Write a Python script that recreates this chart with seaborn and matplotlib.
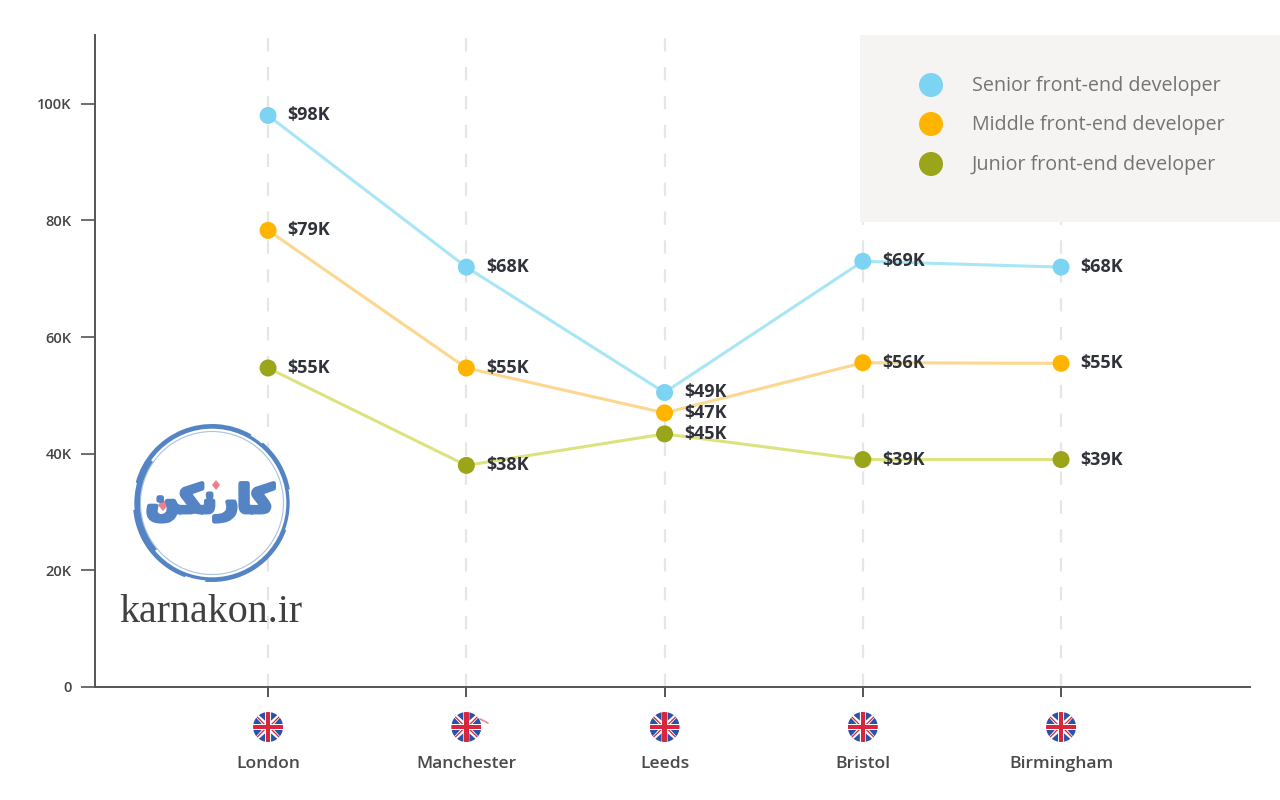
"""Front-end developer salaries by UK city"""

import pandas as pd
import matplotlib.pyplot as plt
import matplotlib.patheffects as pe
from matplotlib.patches import Circle, Rectangle, Wedge, Polygon
import seaborn as sns

cities = ['London', 'Manchester', 'Leeds', 'Bristol', 'Birmingham']
levels = ['Senior front-end developer', 'Middle front-end developer', 'Junior front-end developer']

senior = [98, 72, 50.5, 73, 72]
middle = [78.3, 54.7, 47, 55.6, 55.5]
junior = [54.7, 38, 43.4, 39, 39]

senior_labels = ['$98K', '$68K', '$49K', '$69K', '$68K']
middle_labels = ['$79K', '$55K', '$47K', '$56K', '$55K']
junior_labels = ['$55K', '$38K', '$45K', '$39K', '$39K']

y_ticks = [0, 20, 40, 60, 80, 100]
y_tick_labels = ['0', '20K', '40K', '60K', '80K', '100K']

dot_colors = ['#7dd3f2', '#ffb400', '#9ba51a']
line_colors = ['#a8e6f5', '#fbd78f', '#dde27f']

W, H = 1280, 800
sns.set_theme(style='white')
plt.rcParams['font.family'] = ['Open Sans', 'DejaVu Sans']

df = pd.DataFrame({
    'city': cities * 3,
    'pos': list(range(5)) * 3,
    'level': [lv for lv in levels for _ in cities],
    'salary': senior + middle + junior,
})

fig = plt.figure(figsize=(W / 100, H / 100), dpi=100)
ax = fig.add_axes([95 / W, (H - 687) / H, (1250 - 95) / W, (687 - 35) / H])

# Overlay in pixel coordinates for legend panel, logo and flags
ov = fig.add_axes([0, 0, 1, 1], zorder=5)
ov.set_xlim(0, W)
ov.set_ylim(H, 0)
ov.axis('off')
ov.patch.set_alpha(0)

ax.set_xlim(-0.873, 4.953)
ax.set_ylim(0, 111.8)

for i in range(5):
    ax.axvline(i, color='#e6e6e6', lw=1.6, ls=(0, (6, 7)), zorder=1)

sns.lineplot(data=df, x='pos', y='salary', hue='level', hue_order=levels,
             palette=line_colors, lw=2.2, legend=False, ax=ax, zorder=2)
sns.scatterplot(data=df, x='pos', y='salary', hue='level', hue_order=levels,
                palette=dot_colors, s=150, edgecolor='none', legend=False,
                ax=ax, zorder=3)

# Value labels
for values, labels in zip([senior, middle, junior],
                          [senior_labels, middle_labels, junior_labels]):
    for i, (v, lab) in enumerate(zip(values, labels)):
        ax.annotate(lab.replace('$', r'\$'), (i, v), xytext=(14, 0),
                    textcoords='offset points', va='center', ha='left',
                    fontsize=13, fontweight='bold', color='#30323a', zorder=4)

ax.set_xlabel('')
ax.set_ylabel('')
ax.set_xticks(range(5))
ax.set_xticklabels([])
ax.set_yticks(y_ticks)
ax.set_yticklabels(y_tick_labels, fontsize=10.5, fontweight='semibold', color='#444444')
ax.tick_params(axis='y', length=10, width=1.2, color='#555555', left=True, pad=7)
ax.tick_params(axis='x', length=15, width=1.4, color='#555555', bottom=True,
               direction='inout')
ax.patch.set_alpha(0)
sns.despine(ax=ax)
for side in ['left', 'bottom']:
    ax.spines[side].set_color('#555555')
    ax.spines[side].set_linewidth(1.4)

# Legend panel
ov.add_patch(Rectangle((860, 35), 420, 187, color='#f5f4f2', lw=0))
for py, color, label in zip([85, 124, 164], dot_colors, levels):
    ov.add_patch(Circle((931, py), 12, color=color, lw=0))
    ov.text(972, py + 1, label, fontsize=14.2, color='#747474', va='center', ha='left')


def draw_flag(cx, cy, r=15):
    """Small round Union Jack"""
    clip = Circle((cx, cy), r, transform=ov.transData, color='#ffffff', lw=0)
    ov.add_patch(clip)
    items = []
    for sx in (-1, 1):
        for sy in (-1, 1):
            items.append(Polygon([(cx + sx * r * 0.2, cy + sy * r),
                                  (cx + sx * r * 0.85, cy + sy * r),
                                  (cx + sx * r * 0.2, cy + sy * r * 0.42)],
                                 color='#2a52a8', lw=0))
            items.append(Polygon([(cx + sx * r, cy + sy * r * 0.2),
                                  (cx + sx * r, cy + sy * r * 0.85),
                                  (cx + sx * r * 0.42, cy + sy * r * 0.2)],
                                 color='#2a52a8', lw=0))
            items.append(Polygon([(cx + sx * r * 0.2, cy + sy * r * 0.2),
                                  (cx + sx * r * 0.32, cy + sy * r * 0.2),
                                  (cx + sx * r, cy + sy * r * 0.88),
                                  (cx + sx * r, cy + sy * r)],
                                 color='#d8263c', lw=0))
    items.append(Rectangle((cx - r, cy - r * 0.15), 2 * r, r * 0.3, color='#d8263c', lw=0))
    items.append(Rectangle((cx - r * 0.15, cy - r), r * 0.3, 2 * r, color='#d8263c', lw=0))
    for item in items:
        ov.add_patch(item)
        item.set_clip_path(clip)


# Flags and city names line up with the x positions
for i, city in enumerate(cities):
    px = ax.transData.transform((i, 0))[0]
    draw_flag(px, 727)
    ov.text(px, 764, city, fontsize=12.6, fontweight='semibold', color='#4a4a4a',
            ha='center', va='center')
ov.plot([480, 488], [719, 723], color='#e88a94', lw=1.2)

# Logo watermark
logo = '#5484c4'
ov.add_patch(Circle((212, 503), 76, facecolor='white', edgecolor='none'))
ov.add_patch(Circle((212, 503), 76, facecolor='none', edgecolor=logo, lw=2.4))
ov.add_patch(Circle((212, 503), 71.5, facecolor='none', edgecolor='#a9c2e2', lw=0.8))
for start, end, rad, width in [(195, 300, 79, 4), (20, 95, 79, 3.5), (110, 175, 79, 3),
                               (310, 350, 79, 3), (140, 215, 75, 3)]:
    ov.add_patch(Wedge((212, 503), rad, start, end, width=width, color=logo, lw=0))
ov.text(210, 502, 'ﻦﮑﻧﺭﺎﮐ', fontsize=27, fontweight='bold', color=logo,
        family='DejaVu Sans', ha='center', va='center',
        path_effects=[pe.withStroke(linewidth=3.5, foreground=logo)])
ov.add_patch(Polygon([(163, 499), (168, 505), (163, 511), (158, 505)], color='#f07f8c', lw=0))
ov.add_patch(Polygon([(216, 480), (220, 485), (216, 490), (212, 485)], color='#f07f8c', lw=0))
ov.text(119, 612, 'karnakon.ir', fontsize=28.8, family='Liberation Serif',
        color='#404040', ha='left', va='center')

fig.savefig('out.png', dpi=100, facecolor='white')
